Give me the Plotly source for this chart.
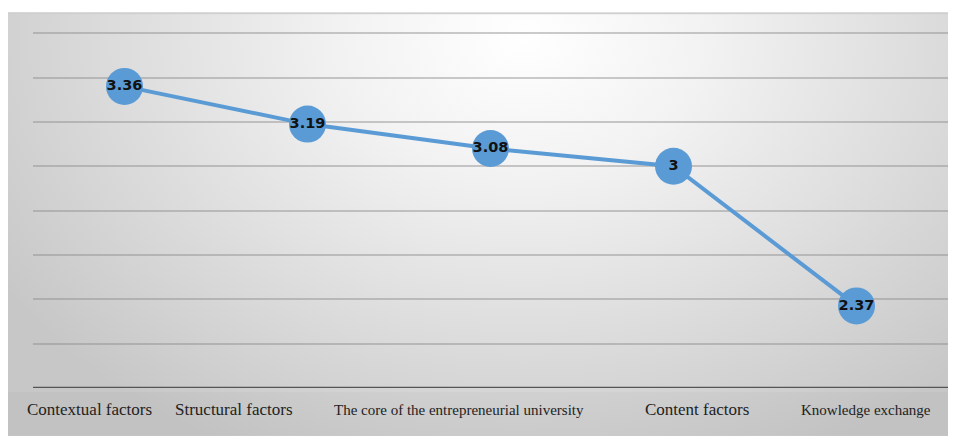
import base64
import plotly.graph_objects as go

categories = ["Contextual factors", "Structural factors",
              "The core of the entrepreneurial university",
              "Content factors", "Knowledge exchange"]
values = [3.36, 3.19, 3.08, 3.00, 2.37]
value_labels = ["3.36", "3.19", "3.08", "3", "2.37"]

# layout-only: horizontal offsets (category units) and font sizes of the bottom text labels
label_x = [-0.19, 0.60, 1.83, 3.13, 4.05]
label_size = [17, 17, 15, 17, 15]

svg = """<svg xmlns='http://www.w3.org/2000/svg' width='948' height='424' viewBox='0 0 948 424' preserveAspectRatio='none'>
<defs>
<radialGradient id='g' gradientUnits='userSpaceOnUse' cx='515' cy='25' r='620' gradientTransform='translate(515 25) scale(1 0.75) translate(-515 -25)'>
<stop offset='0' stop-color='#ffffff'/>
<stop offset='0.3' stop-color='#f2f2f2'/>
<stop offset='1' stop-color='#c7c7c7'/>
</radialGradient>
</defs>
<rect x='0' y='0' width='948' height='424' fill='url(#g)'/>
<rect x='0' y='380' width='948' height='44' fill='#000' fill-opacity='0.025'/>
<rect x='0' y='0' width='948' height='2' fill='#cfcfcf'/>
</svg>"""
src = "data:image/svg+xml;base64," + base64.b64encode(svg.encode()).decode()

fig = go.Figure()
fig.add_trace(go.Scatter(
    x=list(range(len(categories))), y=values,
    mode="lines+markers+text",
    line=dict(color="#5b9bd5", width=4),
    marker=dict(size=37, color="#5b9bd5"),
    text=value_labels, textposition="middle center",
    textfont=dict(family="DejaVu Sans", size=14.5, color="#111111", weight="bold"),
    hoverinfo="skip", showlegend=False, cliponaxis=False,
))

for lx, name, fs in zip(label_x, categories, label_size):
    fig.add_annotation(x=lx, xref="x", y=-0.058, yref="paper", text=name,
                       showarrow=False, yanchor="middle", xanchor="center",
                       font=dict(family="Liberation Serif", size=fs, color="#222222"))

fig.add_layout_image(dict(source=src, xref="paper", yref="paper",
                          x=-25 / 915, y=376 / 377.2, sizex=948 / 915, sizey=424 / 377.2,
                          xanchor="left", yanchor="top", sizing="stretch", layer="below"))

fig.update_layout(
    width=956, height=436,
    margin=dict(l=25, r=16, t=3, b=56),
    paper_bgcolor="white", plot_bgcolor="rgba(0,0,0,0)",
    xaxis=dict(range=[-0.5, 4.5], showticklabels=False, showgrid=False, zeroline=False,
               showline=False, ticks=""),
    yaxis=dict(range=[2.0, 3.7], tickvals=[2.2, 2.4, 2.6, 2.8, 3.0, 3.2, 3.4, 3.6],
               showticklabels=False, showgrid=True,
               gridcolor="rgba(140,140,140,0.45)", gridwidth=2, zeroline=False,
               showline=False, ticks=""),
)
fig.add_shape(type="line", xref="paper", yref="y", x0=0, x1=1, y0=2.0, y1=2.0,
              line=dict(color="#555555", width=2.5))

fig.write_html("out.html")
